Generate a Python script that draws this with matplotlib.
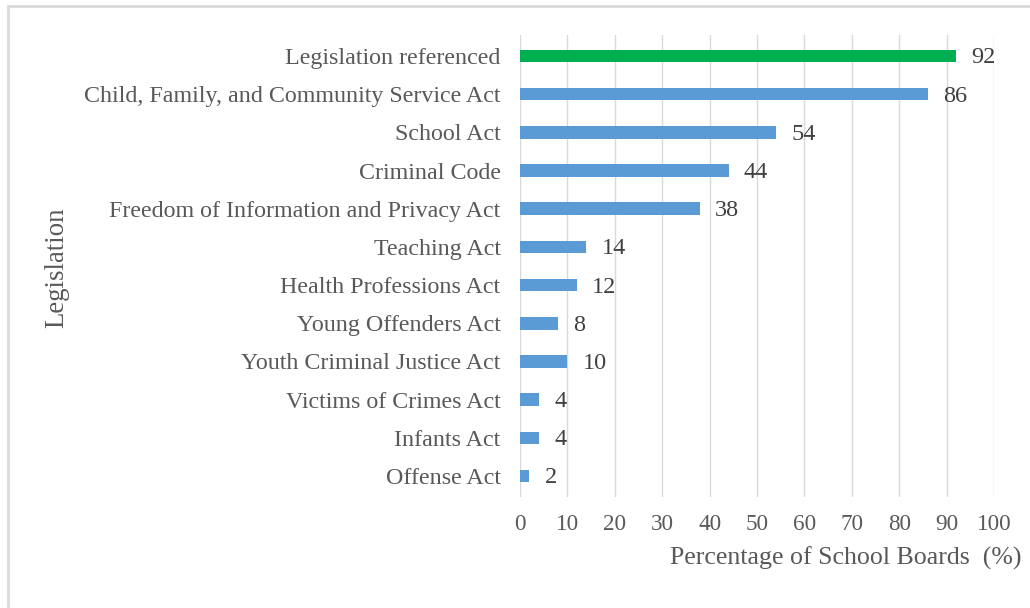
import matplotlib
import matplotlib.pyplot as plt
from matplotlib.patches import Rectangle

matplotlib.use("Agg")

CATEGORIES = [
    "Legislation referenced",
    "Child, Family, and Community Service Act",
    "School Act",
    "Criminal Code",
    "Freedom of Information and Privacy Act",
    "Teaching Act",
    "Health Professions Act",
    "Young Offenders Act",
    "Youth Criminal Justice Act",
    "Victims of Crimes Act",
    "Infants Act",
    "Offense Act",
]
VALUES = [92, 86, 54, 44, 38, 14, 12, 8, 10, 4, 4, 2]
BAR_COLORS = ["#00B050"] + ["#5B9BD5"] * (len(VALUES) - 1)
X_TICKS = list(range(0, 101, 10))

plt.rcParams["font.family"] = ["Liberation Serif", "DejaVu Serif"]

fig = plt.figure(figsize=(10.30, 6.08), dpi=100)
fig.patches.append(
    Rectangle((8 / 1030, -0.1), 1.2, 1 - 6 / 608 + 0.1, transform=fig.transFigure,
              fill=False, edgecolor="#D9D9D9", linewidth=2)
)

ax = fig.add_axes([520 / 1030, 1 - 497 / 608, 474 / 1030, 462 / 608])
pos = list(range(len(VALUES)))
ax.barh(pos, VALUES, height=0.33, color=BAR_COLORS, zorder=3)

for y, v in zip(pos, VALUES):
    ax.text(v + 3.2, y + 0.05, str(v), va="center", ha="left", fontsize=17.5, color="#404040")

ax.set_ylim(len(VALUES) - 0.45, -0.55)
ax.set_xlim(0, 100)
ax.set_xticks(X_TICKS)
ax.set_yticks(pos)
ax.set_yticklabels(CATEGORIES)
ax.tick_params(axis="y", length=0, labelsize=17.3, colors="#595959", pad=14)
ax.tick_params(axis="x", length=0, labelsize=16.7, colors="#595959", pad=12)
ax.grid(axis="x", color="#D9D9D9", linewidth=1, zorder=0)
for s in ax.spines.values():
    s.set_visible(False)

fig.text(670 / 1030, 1 - 558 / 608, "Percentage of School Boards  (%)",
         ha="left", va="center", fontsize=18.6, color="#595959")
fig.text(57 / 1030, 1 - 268 / 608, "Legislation", rotation=90,
         ha="center", va="center", fontsize=19.3, color="#595959")

fig.savefig("out.png", dpi=100)
plt.close(fig)
